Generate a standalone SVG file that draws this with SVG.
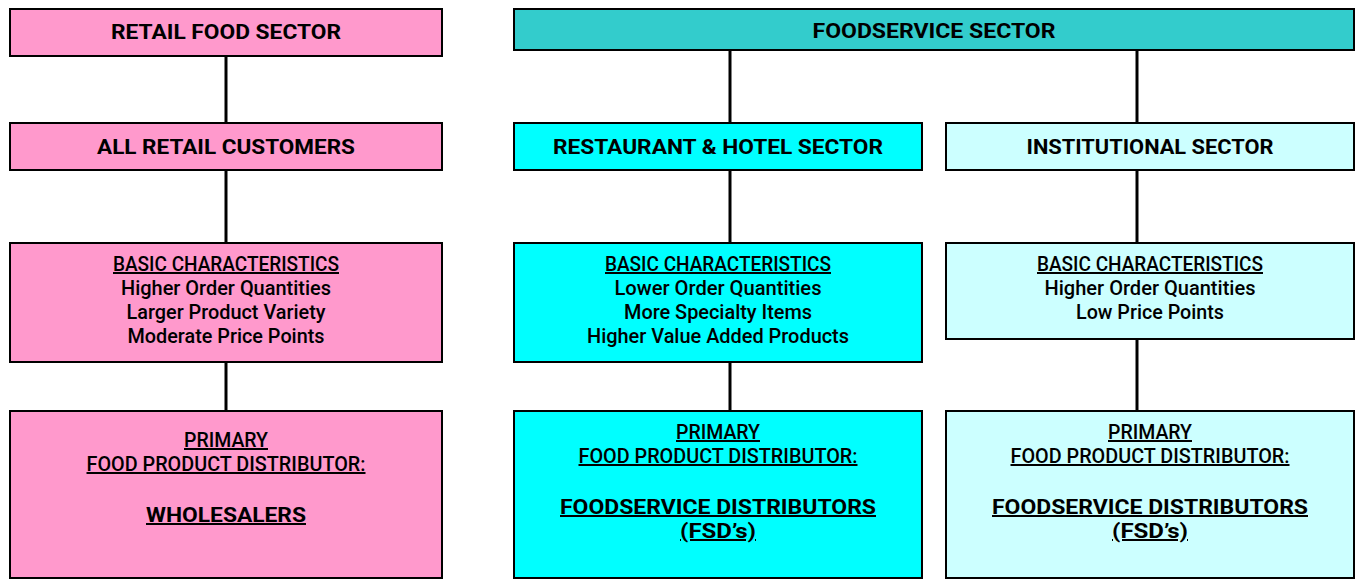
<svg xmlns="http://www.w3.org/2000/svg" width="1355" height="579" viewBox="0 0 1355 579">
<style>
.box{stroke:#000;stroke-width:2}
.pink{fill:#FF99CC}
.teal{fill:#33CCCC}
.cyan{fill:#00FFFF}
.lcyan{fill:#CCFFFF}
text{font-family:Roboto,"Liberation Sans",Arial,sans-serif;font-size:20px;font-weight:500;fill:#000;text-anchor:middle}
.b{font-weight:bold}
.u{text-decoration:underline;text-decoration-skip-ink:none}
.conn line{stroke:#000;stroke-width:3}
</style>
<rect width="1355" height="579" fill="#fff"/>
<g class="conn" id="connectors">
<line x1="226" y1="57" x2="226" y2="123"/>
<line x1="226" y1="171" x2="226" y2="243"/>
<line x1="226" y1="363" x2="226" y2="411"/>
<line x1="730" y1="51" x2="730" y2="123"/>
<line x1="730" y1="171" x2="730" y2="243"/>
<line x1="730" y1="363" x2="730" y2="411"/>
<line x1="1137" y1="51" x2="1137" y2="123"/>
<line x1="1137" y1="171" x2="1137" y2="243"/>
<line x1="1137" y1="339" x2="1137" y2="411"/>
</g>
<g id="retail-food-sector">
<rect class="box pink" x="10" y="9" width="432" height="47"/>
<text class="b" x="226" y="39" textLength="230" lengthAdjust="spacingAndGlyphs">RETAIL FOOD SECTOR</text>
</g>
<g id="all-retail-customers">
<rect class="box pink" x="10" y="123" width="432" height="47"/>
<text class="b" x="226" y="154" textLength="258" lengthAdjust="spacingAndGlyphs">ALL RETAIL CUSTOMERS</text>
</g>
<g id="retail-characteristics">
<rect class="box pink" x="10" y="243" width="432" height="119"/>
<text class="u" x="226" y="271" textLength="226" lengthAdjust="spacingAndGlyphs">BASIC CHARACTERISTICS</text>
<text x="226" y="295" textLength="210" lengthAdjust="spacingAndGlyphs">Higher Order Quantities</text>
<text x="226" y="319" textLength="199" lengthAdjust="spacingAndGlyphs">Larger Product Variety</text>
<text x="226" y="343" textLength="197" lengthAdjust="spacingAndGlyphs">Moderate Price Points</text>
</g>
<g id="retail-distributor">
<rect class="box pink" x="10" y="411" width="432" height="167"/>
<text class="u" x="226" y="447" textLength="84" lengthAdjust="spacingAndGlyphs">PRIMARY</text>
<text class="u" x="226" y="471" textLength="279" lengthAdjust="spacingAndGlyphs">FOOD PRODUCT DISTRIBUTOR:</text>
<text class="b u" x="226" y="522" textLength="160" lengthAdjust="spacingAndGlyphs">WHOLESALERS</text>
</g>
<g id="foodservice-sector">
<rect class="box teal" x="514" y="9" width="840" height="41"/>
<text class="b" x="934" y="38" textLength="243" lengthAdjust="spacingAndGlyphs">FOODSERVICE SECTOR</text>
</g>
<g id="restaurant-hotel-sector">
<rect class="box cyan" x="514" y="123" width="408" height="47"/>
<text class="b" x="718" y="154" textLength="330" lengthAdjust="spacingAndGlyphs">RESTAURANT &amp; HOTEL SECTOR</text>
</g>
<g id="institutional-sector">
<rect class="box lcyan" x="946" y="123" width="408" height="47"/>
<text class="b" x="1150" y="154" textLength="247" lengthAdjust="spacingAndGlyphs">INSTITUTIONAL SECTOR</text>
</g>
<g id="restaurant-characteristics">
<rect class="box cyan" x="514" y="243" width="408" height="119"/>
<text class="u" x="718" y="271" textLength="226" lengthAdjust="spacingAndGlyphs">BASIC CHARACTERISTICS</text>
<text x="718" y="295" textLength="207" lengthAdjust="spacingAndGlyphs">Lower Order Quantities</text>
<text x="718" y="319" textLength="188" lengthAdjust="spacingAndGlyphs">More Specialty Items</text>
<text x="718" y="343" textLength="262" lengthAdjust="spacingAndGlyphs">Higher Value Added Products</text>
</g>
<g id="institutional-characteristics">
<rect class="box lcyan" x="946" y="243" width="408" height="96"/>
<text class="u" x="1150" y="271" textLength="226" lengthAdjust="spacingAndGlyphs">BASIC CHARACTERISTICS</text>
<text x="1150" y="295" textLength="211" lengthAdjust="spacingAndGlyphs">Higher Order Quantities</text>
<text x="1150" y="319" textLength="148" lengthAdjust="spacingAndGlyphs">Low Price Points</text>
</g>
<g id="restaurant-distributor">
<rect class="box cyan" x="514" y="411" width="408" height="167"/>
<text class="u" x="718" y="439" textLength="84" lengthAdjust="spacingAndGlyphs">PRIMARY</text>
<text class="u" x="718" y="463" textLength="279" lengthAdjust="spacingAndGlyphs">FOOD PRODUCT DISTRIBUTOR:</text>
<text class="b u" x="718" y="514" textLength="316" lengthAdjust="spacingAndGlyphs">FOODSERVICE DISTRIBUTORS</text>
<text class="b u" x="718" y="538" textLength="76" lengthAdjust="spacingAndGlyphs">(FSD’s)</text>
</g>
<g id="institutional-distributor">
<rect class="box lcyan" x="946" y="411" width="408" height="167"/>
<text class="u" x="1150" y="439" textLength="84" lengthAdjust="spacingAndGlyphs">PRIMARY</text>
<text class="u" x="1150" y="463" textLength="279" lengthAdjust="spacingAndGlyphs">FOOD PRODUCT DISTRIBUTOR:</text>
<text class="b u" x="1150" y="514" textLength="316" lengthAdjust="spacingAndGlyphs">FOODSERVICE DISTRIBUTORS</text>
<text class="b u" x="1150" y="538" textLength="76" lengthAdjust="spacingAndGlyphs">(FSD’s)</text>
</g>
</svg>
